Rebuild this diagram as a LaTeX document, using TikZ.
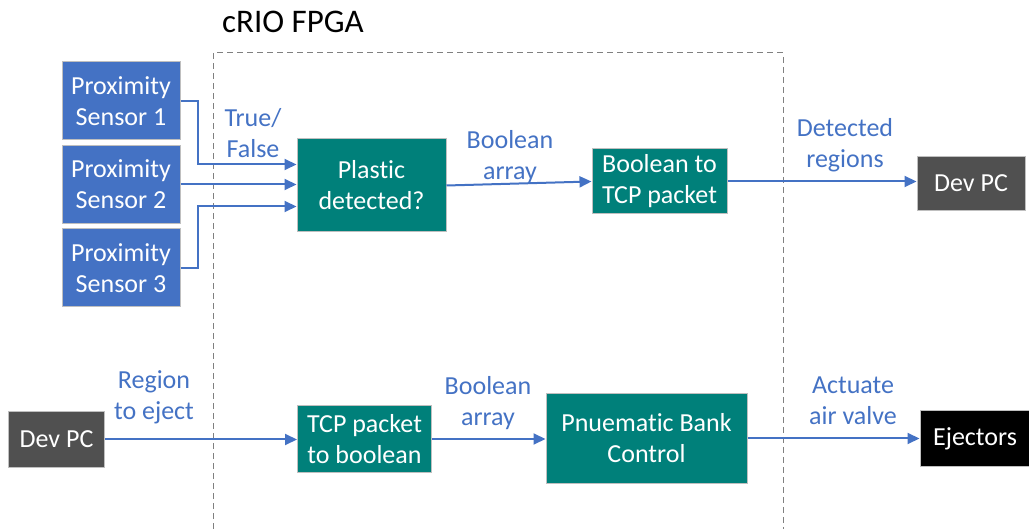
\documentclass[tikz,border=0pt]{standalone}
\usepackage{fontspec}
\setmainfont[Ligatures=NoCommon]{Carlito}
\usetikzlibrary{arrows.meta}
\definecolor{sensorblue}{HTML}{4472C4}
\definecolor{fpgateal}{RGB}{0,128,122}
\definecolor{pcgray}{HTML}{505050}
\definecolor{linkblue}{HTML}{4472C4}

\begin{document}
\begin{tikzpicture}
  [x=1pt, y=-1pt,
   block/.style={draw=black!25, line width=1pt, text=white, align=center, inner sep=0pt,
                 font=\fontsize{26}{31}\selectfont},
   sensor/.style={block, fill=sensorblue, minimum width=118pt, minimum height=78pt},
   fpga/.style={block, fill=fpgateal},
   pc/.style={block, fill=pcgray, minimum width=108pt, minimum height=54pt},
   link/.style={draw=linkblue, line width=2pt, -{Triangle[length=12pt,width=11pt]}},
   tag/.style={text=linkblue, align=center, font=\fontsize{26}{31}\selectfont}]

  \useasboundingbox (0,0) rectangle (1029,529);

  % FPGA boundary
  \node[font=\fontsize{33}{38}\selectfont] (title) at (293,22) {cRIO FPGA};
  \draw[black!50, line width=1pt, dash pattern=on 6pt off 4pt] (213,529) |- (783,53) -- (783,529);

  \node[sensor] (s1) at (121,101) {Proximity\\Sensor 1};
  \node[sensor] (s2) at (121,184.5) {Proximity\\Sensor 2};
  \node[sensor] (s3) at (121,268) {Proximity\\Sensor 3};

  \node[fpga, minimum width=149pt, minimum height=93pt] (plastic) at (371.5,185.5) {Plastic\\detected?};
  \node[fpga, minimum width=135pt, minimum height=65pt] (booltcp) at (659.5,181.5) {Boolean to\\TCP packet};
  \node[pc] (devtop) at (971,183.5) {Dev PC};

  \node[pc, minimum width=96pt, minimum height=56pt] (devbot) at (56.5,439.5) {Dev PC};
  \node[fpga, minimum width=134pt, minimum height=66pt] (tcpbool) at (364.5,439) {TCP packet\\to boolean};
  \node[fpga, minimum width=201pt, minimum height=89pt] (bank) at (646.5,438.5) {Pnuematic Bank\\Control};
  \node[pc, fill=black, minimum width=110pt, minimum height=55pt] (eject) at (975,438.5) {Ejectors};

  \node[tag] (truefalse) at (253,133) {True/\\False};
  \node[tag] (boolA) at (510,157) {Boolean\\array};
  \node[tag] (detected) at (845,145) {Detected\\regions};
  \node[tag] (region) at (154,397) {Region\\to eject};
  \node[tag] (boolB) at (488,403) {Boolean\\array};
  \node[tag] (actuate) at (853,401) {Actuate\\air valve};

  % sensor inputs
  \draw[link] (s1.east) -- ++(17,0) |- ([yshift=21pt]plastic.west);
  \draw[link] (s2.east) -- (s2.east -| plastic.west);
  \draw[link] (s3.east) -- ++(17,0) |- ([yshift=-21pt]plastic.west);

  \draw[link] (plastic.east) -- (booltcp.west);
  \foreach \from/\to in {booltcp/devtop, devbot/tcpbool, tcpbool/bank, bank/eject}
    \draw[link] (\from.east) -- (\from.east -| \to.west);
\end{tikzpicture}
\end{document}
